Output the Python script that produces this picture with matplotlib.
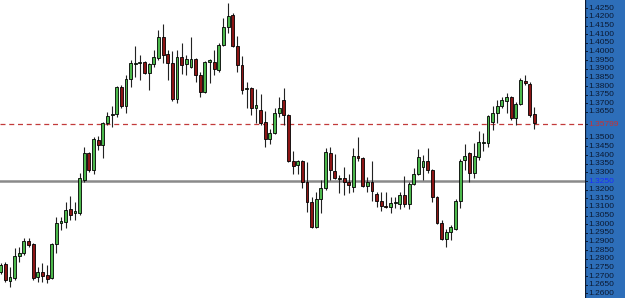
import numpy as np
import matplotlib
matplotlib.use("Agg")
import matplotlib.pyplot as plt

# OHLC (one entry per candle, left to right)
opens = [1.2723, 1.2770, 1.2671, 1.2688, 1.2816, 1.2833, 1.2903, 1.2885, 1.2694, 1.2723,
         1.2706, 1.2688, 1.2885, 1.3007, 1.3013, 1.3088, 1.3065, 1.3065, 1.3256, 1.3412,
         1.3314, 1.3488, 1.3459, 1.3586, 1.3632, 1.3638, 1.3794, 1.3684, 1.3841, 1.3928,
         1.3933, 1.3939, 1.3875, 1.3928, 1.3962, 1.4084, 1.3985, 1.3933, 1.3725, 1.3968,
         1.3928, 1.3910, 1.3957, 1.3864, 1.3765, 1.3939, 1.3939, 1.3893, 1.4038, 1.4142,
         1.4211, 1.4032, 1.3922, 1.3783, 1.3789, 1.3673, 1.3661, 1.3592, 1.3493, 1.3528,
         1.3644, 1.3719, 1.3632, 1.3366, 1.3343, 1.3366, 1.3244, 1.3128, 1.2984, 1.3146,
         1.3210, 1.3412, 1.3308, 1.3262, 1.3268, 1.3244, 1.3215, 1.3395, 1.3383, 1.3221,
         1.3244, 1.3175, 1.3134, 1.3105, 1.3100, 1.3123, 1.3117, 1.3169, 1.3117, 1.3233,
         1.3291, 1.3331, 1.3366, 1.3314, 1.3157, 1.3007, 1.2914, 1.2955, 1.2972, 1.3134,
         1.3372, 1.3412, 1.3296, 1.3389, 1.3470, 1.3470, 1.3592, 1.3644, 1.3684, 1.3713,
         1.3736, 1.3615, 1.3696, 1.3829, 1.3812, 1.3638]
highs = [1.2775, 1.2781, 1.2752, 1.2862, 1.2868, 1.2920, 1.2920, 1.2891, 1.2752, 1.2775,
         1.2764, 1.2891, 1.3042, 1.3042, 1.3128, 1.3163, 1.3128, 1.3296, 1.3447, 1.3418,
         1.3505, 1.3511, 1.3592, 1.3650, 1.3684, 1.3800, 1.3806, 1.3864, 1.3951, 1.4032,
         1.3980, 1.3945, 1.3933, 1.4009, 1.4124, 1.4159, 1.4009, 1.4003, 1.4009, 1.4049,
         1.3980, 1.4084, 1.3962, 1.3881, 1.3945, 1.3957, 1.4009, 1.4049, 1.4194, 1.4281,
         1.4223, 1.4090, 1.3974, 1.3823, 1.3794, 1.3783, 1.3754, 1.3655, 1.3551, 1.3673,
         1.3736, 1.3789, 1.3638, 1.3424, 1.3372, 1.3372, 1.3360, 1.3157, 1.3186, 1.3256,
         1.3441, 1.3447, 1.3406, 1.3285, 1.3331, 1.3291, 1.3441, 1.3505, 1.3389, 1.3273,
         1.3366, 1.3186, 1.3186, 1.3186, 1.3157, 1.3157, 1.3186, 1.3279, 1.3244, 1.3325,
         1.3435, 1.3401, 1.3441, 1.3320, 1.3163, 1.3024, 1.2972, 1.2995, 1.3146, 1.3378,
         1.3464, 1.3418, 1.3470, 1.3539, 1.3528, 1.3632, 1.3684, 1.3719, 1.3736, 1.3760,
         1.3742, 1.3708, 1.3847, 1.3864, 1.3823, 1.3679]
lows = [1.2712, 1.2665, 1.2636, 1.2677, 1.2781, 1.2822, 1.2868, 1.2677, 1.2665, 1.2665,
        1.2659, 1.2683, 1.2833, 1.2966, 1.2978, 1.3024, 1.3024, 1.3053, 1.3244, 1.3302,
        1.3291, 1.3430, 1.3383, 1.3574, 1.3563, 1.3621, 1.3673, 1.3644, 1.3794, 1.3852,
        1.3835, 1.3870, 1.3777, 1.3910, 1.3951, 1.3933, 1.3835, 1.3713, 1.3702, 1.3870,
        1.3864, 1.3905, 1.3823, 1.3736, 1.3760, 1.3818, 1.3864, 1.3881, 1.4032, 1.4107,
        1.4026, 1.3881, 1.3754, 1.3673, 1.3632, 1.3586, 1.3574, 1.3447, 1.3464, 1.3522,
        1.3621, 1.3574, 1.3360, 1.3291, 1.3291, 1.3210, 1.3071, 1.2978, 1.2978, 1.3065,
        1.3198, 1.3256, 1.3262, 1.3181, 1.3169, 1.3181, 1.3186, 1.3366, 1.3215, 1.3186,
        1.3134, 1.3100, 1.3076, 1.3094, 1.3065, 1.3094, 1.3088, 1.3100, 1.3088, 1.3227,
        1.3285, 1.3256, 1.3296, 1.3128, 1.3001, 1.2909, 1.2868, 1.2909, 1.2966, 1.3094,
        1.3314, 1.3244, 1.3268, 1.3372, 1.3424, 1.3447, 1.3545, 1.3586, 1.3673, 1.3644,
        1.3603, 1.3574, 1.3690, 1.3806, 1.3621, 1.3551]
closes = [1.2764, 1.2677, 1.2694, 1.2816, 1.2833, 1.2903, 1.2880, 1.2688, 1.2723, 1.2700,
          1.2683, 1.2885, 1.3007, 1.3018, 1.3082, 1.3053, 1.3076, 1.3268, 1.3412, 1.3314,
          1.3493, 1.3459, 1.3586, 1.3626, 1.3638, 1.3794, 1.3684, 1.3841, 1.3933, 1.3933,
          1.3939, 1.3875, 1.3928, 1.3968, 1.4084, 1.3980, 1.3933, 1.3725, 1.3968, 1.3922,
          1.3957, 1.3957, 1.3864, 1.3765, 1.3939, 1.3951, 1.3899, 1.4038, 1.4142, 1.4205,
          1.4032, 1.3922, 1.3777, 1.3789, 1.3673, 1.3690, 1.3586, 1.3493, 1.3528, 1.3644,
          1.3673, 1.3632, 1.3366, 1.3337, 1.3366, 1.3244, 1.3128, 1.2984, 1.3146, 1.3210,
          1.3418, 1.3314, 1.3268, 1.3268, 1.3244, 1.3227, 1.3395, 1.3383, 1.3221, 1.3244,
          1.3192, 1.3134, 1.3105, 1.3100, 1.3123, 1.3128, 1.3169, 1.3117, 1.3233, 1.3291,
          1.3389, 1.3366, 1.3314, 1.3157, 1.3007, 1.2914, 1.2955, 1.2984, 1.3134, 1.3366,
          1.3395, 1.3296, 1.3395, 1.3476, 1.3476, 1.3626, 1.3644, 1.3684, 1.3719, 1.3736,
          1.3615, 1.3696, 1.3835, 1.3818, 1.3632, 1.3586]

bid_line = 1.35799
level_line = 1.3250
tick_values = [round(1.2600 + 0.005 * k, 4) for k in range(34)]
tick_values = [t for t in tick_values if t not in (1.3550, 1.3600)]

up_col = "#4cb84c"
down_col = "#8c1515"
panel_col = "#2d6eb9"
text_col = "#0b1a33"
ylim = (1.25728, 1.42981)

fig = plt.figure(figsize=(6.25, 2.98), dpi=100)
ax = fig.add_axes([0, 0, 585 / 625, 1])
panel = fig.add_axes([585 / 625, 0, 40 / 625, 1], facecolor=panel_col)

x = np.arange(len(opens))
o = np.array(opens)
c = np.array(closes)
body_lo = np.minimum(o, c)
body_h = np.maximum(np.abs(c - o), 0.0002)
colors = [up_col if cc >= oo else down_col for oo, cc in zip(o, c)]

ax.vlines(x, lows, highs, color="#222222", linewidth=0.8, zorder=2)
ax.bar(x, body_h, 0.62, bottom=body_lo, color=colors, edgecolor="black",
       linewidth=0.6, zorder=3)

ax.axhline(bid_line, color="#c23a3a", linewidth=0.9, linestyle=(0, (4, 3)), zorder=1)
ax.axhline(level_line, color="#8a8a8a", linewidth=1.8, zorder=1)

ax.set_xlim(-0.15, 125.9)
ax.set_ylim(*ylim)
ax.axis("off")

# price scale
panel.set_xlim(0, 40)
panel.set_ylim(*ylim)
panel.set_xticks([])
panel.set_yticks([])
for s in panel.spines.values():
    s.set_visible(False)
panel.axvline(0.4, color=text_col, linewidth=0.9)
for t in tick_values + [bid_line]:
    if t == bid_line:
        lab, col = "%.5f" % t, "#c83232"
    elif abs(t - level_line) < 1e-9:
        lab, col = "%.4f" % t, "#1a2dff"
    else:
        lab, col = "%.4f" % t, text_col
    panel.plot([0.4, 2.6], [t, t], color=text_col, linewidth=0.7)
    panel.text(3.0, t, lab, color=col, fontsize=6, family="Liberation Sans",
               va="center", ha="left",
               bbox=dict(boxstyle="square,pad=0", facecolor=panel_col, edgecolor="none"))

fig.savefig("out.png", dpi=100)
